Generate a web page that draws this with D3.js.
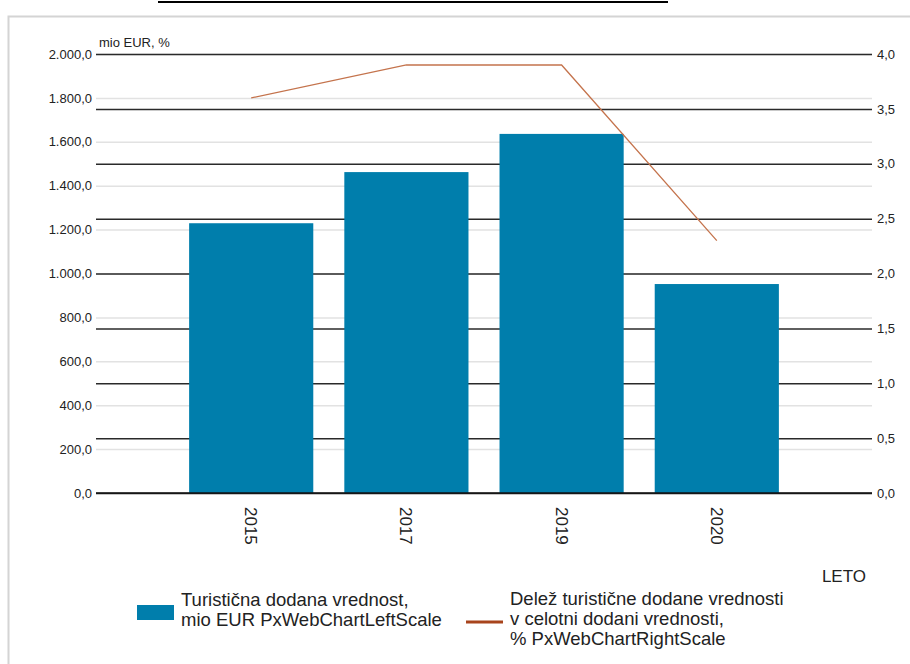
<html>
 <head>
 <meta charset="utf-8">
 <title>Turisticna dodana vrednost</title>
<style>
 body{ margin:0; background:#fff; font-family:'Liberation Sans', Arial, sans-serif; }
 svg{ display:block; }
</style>
<script src="https://cdnjs.cloudflare.com/ajax/libs/d3/7.8.5/d3.min.js"></script>
 </head>
 <body>
   <div id="plot"></div>

<script>
  // data
  var years = ["2015", "2017", "2019", "2020"];
  var valueAdded = [1229, 1462, 1636, 952];     // mio EUR, left scale
  var sharePct = [3.6, 3.9, 3.9, 2.3];          // %, right scale
  var leftMax = 2000, rightMax = 4;
  var unitLabel = "mio EUR, %";
  var axisTitle = "LETO";
  var legendBars = ["Turistična dodana vrednost,", "mio EUR PxWebChartLeftScale"];
  var legendLine = ["Delež turistične dodane vrednosti", "v celotni dodani vrednosti,", "% PxWebChartRightScale"];

  var w = 910, h = 664;
  var pLeft = 96, pRight = 872, pTop = 54, pBottom = 493;
  var barColor = "#007eac", lineColor = "#c4734c";

  var sl = d3.formatLocale({decimal: ",", thousands: ".", grouping: [3], currency: ["", " €"]});
  var fmt = sl.format(",.1f");

  var x = d3.scaleBand().domain(years).range([pLeft, pRight]).paddingInner(0.2).paddingOuter(0.6);
  var yL = d3.scaleLinear().domain([0, leftMax]).range([pBottom, pTop]);
  var yR = d3.scaleLinear().domain([0, rightMax]).range([pBottom, pTop]);

  var vis = d3.select("#plot").append("svg").attr("width", w).attr("height", h);

  // page bits around the chart
  vis.append("line").attr("x1", 158).attr("x2", 668).attr("y1", 2).attr("y2", 2)
     .attr("stroke", "#000").attr("stroke-width", 2);
  vis.append("path").attr("d", "M8.5,664V16.5H910").attr("fill", "none")
     .attr("stroke", "#d4d4d4").attr("stroke-width", 2);

  // light gridlines of the left scale
  var gl = vis.append("g").attr("transform", "translate(" + pLeft + ",0)")
     .call(d3.axisLeft(yL).ticks(10).tickSize(-(pRight - pLeft)).tickPadding(4).tickFormat(fmt));
  gl.select(".domain").remove();
  gl.selectAll("line").attr("stroke", "#e2e2e2").attr("stroke-width", 1.5);
  gl.selectAll("text").attr("fill", "#222").style("font-size", "13px")
    .style("font-family", "'Liberation Sans', Arial, sans-serif");

  // dark gridlines of the right scale
  var gr = vis.append("g").attr("transform", "translate(" + pRight + ",0)")
     .call(d3.axisRight(yR).ticks(8).tickSize(-(pRight - pLeft)).tickPadding(5).tickFormat(fmt));
  gr.select(".domain").remove();
  gr.selectAll("line").attr("stroke", "#2a2a2a").attr("stroke-width", 1.5);
  gr.selectAll("text").attr("fill", "#222").style("font-size", "13px")
    .style("font-family", "'Liberation Sans', Arial, sans-serif");

  vis.append("text").attr("x", 99).attr("y", 47).attr("fill", "#222")
     .style("font-size", "13px").text(unitLabel);

  // bars
  vis.selectAll("rect.bar").data(years).enter().append("rect")
     .attr("class", "bar")
     .attr("x", function(d) { return x(d); })
     .attr("width", x.bandwidth())
     .attr("y", function(d, i) { return yL(valueAdded[i]); })
     .attr("height", function(d, i) { return pBottom - yL(valueAdded[i]); })
     .attr("fill", barColor);

  // baseline
  vis.append("line").attr("x1", pLeft).attr("x2", pRight).attr("y1", pBottom).attr("y2", pBottom)
     .attr("stroke", "#111").attr("stroke-width", 1.5);

  // share line
  var line = d3.line()
     .x(function(d, i) { return x(years[i]) + x.bandwidth() / 2; })
     .y(function(d) { return yR(d); });
  vis.append("path").datum(sharePct).attr("d", line)
     .attr("fill", "none").attr("stroke", lineColor).attr("stroke-width", 1.3);

  // x labels, turned
  vis.selectAll("text.yr").data(years).enter().append("text")
     .attr("class", "yr")
     .attr("transform", function(d) { return "translate(" + (x(d) + x.bandwidth() / 2 - 6) + ",507) rotate(90)"; })
     .attr("fill", "#222").style("font-size", "17px")
     .text(function(d) { return d; });

  vis.append("text").attr("x", 866).attr("y", 582).attr("text-anchor", "end")
     .attr("fill", "#222").style("font-size", "17px").text(axisTitle);

  // legend
  var lg = vis.append("g").style("font-size", "18.5px").attr("fill", "#222");
  lg.append("rect").attr("x", 137).attr("y", 605).attr("width", 37).attr("height", 15).attr("fill", barColor);
  lg.selectAll("text.lb").data(legendBars).enter().append("text").attr("class", "lb")
    .attr("x", 181).attr("y", function(d, i) { return 606 + i * 20; }).text(function(d) { return d; });
  lg.append("line").attr("x1", 466).attr("x2", 503).attr("y1", 622).attr("y2", 622)
    .attr("stroke", "#a8441c").attr("stroke-width", 3);
  lg.selectAll("text.ll").data(legendLine).enter().append("text").attr("class", "ll")
    .attr("x", 510).attr("y", function(d, i) { return 605 + i * 20; }).text(function(d) { return d; });
</script>
 </body>
</html>
